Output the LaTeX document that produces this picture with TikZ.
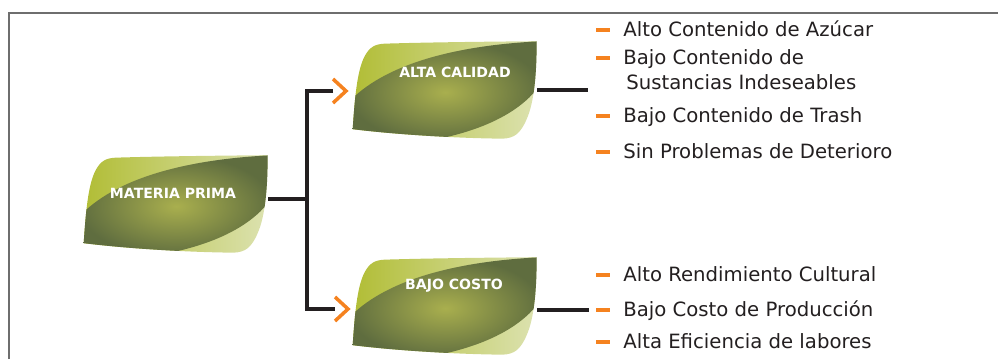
\documentclass[tikz,border=0pt]{standalone}
\usepackage{fontspec}
\setmainfont{DejaVu Sans}
\usetikzlibrary{positioning}
\definecolor{leafolive}{HTML}{5F6D3F}
\definecolor{leafcore}{HTML}{A9AF4E}
\definecolor{leafgreen}{HTML}{B1BD35}
\definecolor{leafpale}{HTML}{DCE2B0}
\definecolor{tick}{HTML}{F5821F}
\definecolor{ink}{HTML}{231F20}
\definecolor{framegray}{HTML}{6E6E6E}

% outline of one leaf, local px, y grows downwards
\newcommand{\leafoutline}{(0,88) .. controls (2,60) and (4,30) .. (12,15)
  .. controls (17,6) and (22,3) .. (32,2.5) .. controls (80,1) and (140,0.5) .. (184,0)
  .. controls (184,30) and (182,60) .. (174,78) .. controls (168,92) and (162,97) .. (150,97.5)
  .. controls (100,97) and (40,93) .. (0,88) -- cycle}

\tikzset{
  leaf/.style={minimum width=3.68cm, minimum height=1.94cm, inner sep=0pt},
  leaftext/.style={text=white, font=\bfseries\fontsize{8}{10}\selectfont, inner sep=0pt},
  item/.style={anchor=west, inner sep=0pt, text height=1.45ex, text depth=0pt,
    font=\fontsize{11.2}{13}\selectfont, text=ink},
  bullet/.style={fill=tick, minimum width=0.28cm, minimum height=0.09cm, inner sep=0pt, left=7.4pt of #1},
  link/.style={draw=ink, line width=2.3pt},
  chevron/.style={draw=tick, line width=2pt},
}

\begin{document}
\begin{tikzpicture}[x=0.02cm, y=-0.02cm]
  \useasboundingbox (0,0) rectangle (998,359);
  \draw[framegray, line width=1.3pt] (9,359) -- (9,13) -- (998,13);

  % fork
  \coordinate (fork) at (307,199);
  \coordinate (acin) at (333,91);
  \coordinate (bcin) at (335,309);
  \coordinate (acout) at (588,90);
  \coordinate (bcout) at (589,310);

  \node[leaf] (mp) at (176,204) {};
  \node[leaf] (ac) at (445,90) {};
  \node[leaf] (bc) at (445,306) {};

  \draw[link] (acin) -| (fork) |- (bcin);
  \draw[link] (mp.east |- fork) -- (fork);
  \draw[link] (ac.east) -- (acout);
  \draw[link] (bc.east |- bcout) -- (bcout);
  \draw[chevron] (acin) ++(0,-12) -- ++(13,12) -- ++(-13,12);
  \draw[chevron] (bcin) ++(0,-12) -- ++(13,12) -- ++(-13,12);

  % leaves
  \foreach \n in {mp,ac,bc}{
    \begin{scope}[shift={(\n.north west)}]
      \shade[left color=leafgreen, right color=leafpale] \leafoutline;
      \begin{scope}
        \clip \leafoutline;
        \shade[inner color=leafcore, outer color=leafolive] (-5,62) .. controls (30,24) and (100,4) .. (190,0)
          -- (190,40) .. controls (166,78) and (110,96) .. (58,102) -- (-5,102) -- cycle;
      \end{scope}
    \end{scope}
  }

  \node[leaftext] (mptext) at (173,193) {MATERIA PRIMA};
  \node[leaftext] (actext) at (455,72) {ALTA CALIDAD};
  \node[leaftext] (bctext) at (454,286) {BAJO COSTO};

  % lists
  \node[item] (t1) at (623,30) {Alto Contenido de Azúcar};
  \node[item] (t2) at (623,58) {Bajo Contenido de};
  \node[item] (t2b) at (626,83) {Sustancias Indeseables};
  \node[item] (t3) at (623,116) {Bajo Contenido de Trash};
  \node[item] (t4) at (623,152) {Sin Problemas de Deterioro};
  \node[item] (u1) at (623,275) {Alto Rendimiento Cultural};
  \node[item] (u2) at (623,310) {Bajo Costo de Producción};
  \node[item] (u3) at (623,342) {Alta Eficiencia de labores};
  \foreach \t in {t1,t2,t3,t4,u1,u2,u3}
    \node[bullet=\t] {};
\end{tikzpicture}
\end{document}
